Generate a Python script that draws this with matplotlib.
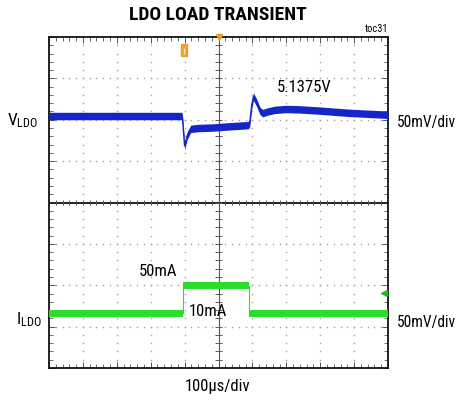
import matplotlib.pyplot as plt
import numpy as np
from matplotlib import font_manager

# screen is 10 x 8 divisions, time in us (100us/div), traces in divisions
t_v = [0, 392, 394, 400, 408, 418, 440, 480, 530, 588, 592, 598, 603,
       612, 622, 630, 645, 667, 700, 740, 800, 880, 1000]
v_ldo = [6.09, 6.09, 6.00, 5.37, 5.62, 5.78, 5.80, 5.81, 5.84, 5.87, 5.92,
         6.35, 6.56, 6.42, 6.22, 6.16, 6.20, 6.24, 6.26, 6.25, 6.22, 6.17,
         6.12]

t_i = [0, 394, 394, 591, 591, 1000]
i_ldo = [1.32, 1.32, 1.99, 1.99, 1.32, 1.32]

names = {f.name for f in font_manager.fontManager.ttflist}
family = 'Liberation Sans'
for cand in ['Liberation Sans Narrow', 'Arial Narrow', 'Roboto Condensed',
             'Archivo Narrow']:
    if cand in names:
        family = cand
        break
plt.rcParams['font.family'] = [family, 'DejaVu Sans']
plt.rcParams['mathtext.default'] = 'regular'

W, H = 458, 400
fig = plt.figure(figsize=(W / 100, H / 100), dpi=100)
ax = fig.add_axes([49 / W, 1 - 368 / H, 339 / W, 331 / H])
ax.set_xlim(0, 1000)
ax.set_ylim(0, 8)

# dotted graticule
gx, gy = [], []
for k in range(1, 10):
    if k == 5:
        continue
    for j in np.arange(0, 8.01, 0.2):
        gx.append(k * 100)
        gy.append(j)
for k in range(1, 8):
    if k == 4:
        continue
    for j in np.arange(0, 1000.1, 20):
        gx.append(j)
        gy.append(k)
ax.plot(gx, gy, ls='none', marker='s', ms=1.0, mew=0, color='#a0a0a0',
        zorder=1)

# centre cross with minor ticks
ax.axhline(4, color='#222222', lw=1.4, zorder=2)
ax.axvline(500, color='#555555', lw=0.8, zorder=2)
xt = np.arange(0, 1000.1, 20)
ax.vlines(xt, 4 - 0.07, 4 + 0.07, color='#555555', lw=0.7, zorder=2)
yt = np.arange(0, 8.01, 0.2)
ax.hlines(yt, 500 - 9, 500 + 9, color='#555555', lw=0.7, zorder=2)

ax.set_xticks(np.arange(0, 1001, 100))
ax.set_xticks(xt, minor=True)
ax.set_yticks(np.arange(0, 9, 1))
ax.set_yticks(yt, minor=True)
ax.tick_params(which='both', direction='in', top=True, right=True,
               labelbottom=False, labelleft=False, color='#555555')
ax.tick_params(which='major', length=4, width=0.7)
ax.tick_params(which='minor', length=3, width=0.6)
for s in ax.spines.values():
    s.set_linewidth(1.3)
    s.set_color('#111111')

# traces drawn as noise bands
blue = '#1426c8'
green = '#2add2a'
v = np.array(v_ldo)
ax.fill_between(t_v, v - 0.09, v + 0.09, color=blue, lw=0, zorder=3)
ax.plot(t_v, v, color=blue, lw=1.0, zorder=3)
i = np.array(i_ldo)
ax.fill_between(t_i, i - 0.085, i + 0.085, color=green, lw=0, zorder=3)
ax.plot(t_i, i, color=green, lw=0.8, zorder=3)

# markers: trigger, trigger level, ground reference
tag = [(-1, -1.7), (1, -1.7), (1, 1.7), (-1, 1.7), (-1, -1.7)]
ax.plot([500], [8], marker='v', ms=5, color='#f0a020', clip_on=False,
        zorder=5)
ax.plot([398], [7.69], marker=tag, ms=8, color='#f0a030', zorder=5)
ax.plot([398], [7.66], marker='|', ms=4, color='#fff0d0', mew=1, zorder=6)
ax.plot([988], [1.82], marker='<', ms=4, color='#22bb22', zorder=5)


def ftext(x, y, s, **kw):
    fig.text(x / W, 1 - y / H, s, va='center', **kw)


ftext(218, 15, 'LDO LOAD TRANSIENT', ha='center', fontsize=14,
      fontweight='bold')
ftext(388, 29, 'toc31', ha='right', fontsize=7.5)
ftext(7, 121, 'V$_{LDO}$', ha='left', fontsize=12.5)
ftext(16, 320, 'I$_{LDO}$', ha='left', fontsize=12.5)
ftext(397, 123, '50mV/div', ha='left', fontsize=11.2)
ftext(397, 323, '50mV/div', ha='left', fontsize=11.2)
ftext(277, 88, '5.1375V', ha='left', fontsize=12)
ftext(139, 271, '50mA', ha='left', fontsize=12)
ftext(189, 312, '10mA', ha='left', fontsize=12)
ftext(218, 386, '100µs/div', ha='center', fontsize=12)

fig.savefig('out.png', dpi=100)
